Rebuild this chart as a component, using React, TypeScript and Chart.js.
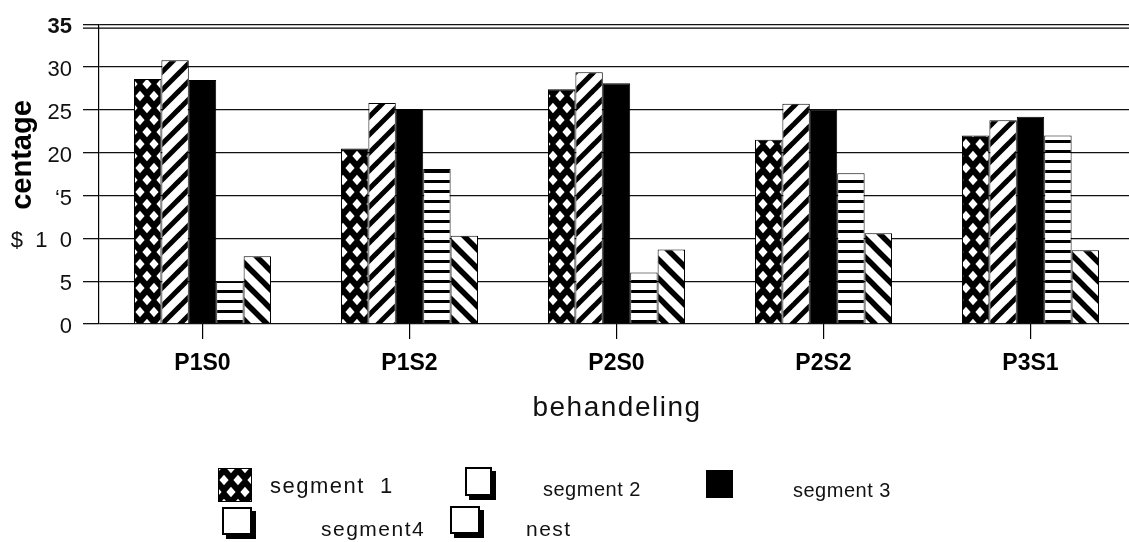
import React, { useEffect, useRef } from "react";
import { Chart, registerables } from "chart.js";

Chart.register(...registerables);

const categories = ["P1S0", "P1S2", "P2S0", "P2S2", "P3S1"];
const seriesNames = ["segment 1", "segment 2", "segment 3", "segment4", "nest"];
const segment1 = [28.6, 20.5, 27.4, 21.5, 22.0];
const segment2 = [30.8, 25.8, 29.4, 25.7, 23.8];
const segment3 = [28.5, 25.1, 28.1, 25.0, 24.2];
const segment4 = [4.9, 18.1, 6.0, 17.6, 22.0];
const nest = [7.9, 10.3, 8.7, 10.6, 8.6];
const yTickValues = [0, 5, 10, 15, 20, 25, 30, 35];
const yTickLabels = ["0", "5", "$  1  0", "\u20185", "20", "25", "30", "35"];
const yAxisTitle = "centage";
const xAxisTitle = "behandeling";
const legendLabels = ["segment  1", "segment 2", "segment 3", "segment4", "nest"];

const W = 1134;
const H = 542;
const FONT = '"Liberation Sans", Arial, sans-serif';

function makePattern(kind: string): CanvasPattern | string {
  const c = document.createElement("canvas");
  let w = 10, h = 10;
  if (kind === "cross") { w = 14; h = 24; }
  if (kind === "slash") { w = 18; h = 18; }
  if (kind === "back") { w = 19; h = 19; }
  if (kind === "horiz") { w = 10; h = 10; }
  c.width = w; c.height = h;
  const ctx = c.getContext("2d")!;
  if (kind === "cross") {
    ctx.fillStyle = "#000";
    ctx.fillRect(0, 0, w, h);
    ctx.fillStyle = "#fff";
    const centers = [[0, 0], [w, 0], [w / 2, h / 2], [0, h], [w, h]];
    for (const [cx, cy] of centers) {
      ctx.beginPath();
      ctx.moveTo(cx, cy - 5.2);
      ctx.lineTo(cx + 4.6, cy);
      ctx.lineTo(cx, cy + 5.2);
      ctx.lineTo(cx - 4.6, cy);
      ctx.closePath();
      ctx.fill();
    }
  } else if (kind === "slash") {
    ctx.fillStyle = "#fff";
    ctx.fillRect(0, 0, w, h);
    ctx.strokeStyle = "#000";
    ctx.lineWidth = 5;
    for (const k of [0, w, 2 * w]) {
      ctx.beginPath();
      ctx.moveTo(-w, k + w);
      ctx.lineTo(2 * w, k - 2 * w);
      ctx.stroke();
    }
  } else if (kind === "back") {
    ctx.fillStyle = "#fff";
    ctx.fillRect(0, 0, w, h);
    ctx.strokeStyle = "#000";
    ctx.lineWidth = 5.5;
    for (const k of [-w, 0, w]) {
      ctx.beginPath();
      ctx.moveTo(-w, k - w);
      ctx.lineTo(2 * w, k + 2 * w);
      ctx.stroke();
    }
  } else if (kind === "horiz") {
    ctx.fillStyle = "#fff";
    ctx.fillRect(0, 0, w, h);
    ctx.fillStyle = "#000";
    ctx.fillRect(0, 0, w, 3);
  }
  return ctx.createPattern(c, "repeat") || "#000";
}

export default function App() {
  const ref = useRef<HTMLCanvasElement | null>(null);

  useEffect(() => {
    if (!ref.current) return;
    const fills = [makePattern("cross"), makePattern("slash"), "#000", makePattern("horiz"), makePattern("back")];
    const values = [segment1, segment2, segment3, segment4, nest];

    const overlay = {
      id: "overlay",
      afterDraw(chart: any) {
        const ctx = chart.ctx as CanvasRenderingContext2D;
        const ca = chart.chartArea;
        ctx.save();
        // second top rule
        ctx.strokeStyle = "#000";
        ctx.lineWidth = 1.3;
        ctx.beginPath();
        ctx.moveTo(83, ca.top + 4);
        ctx.lineTo(W, ca.top + 4);
        ctx.stroke();

        // y title
        ctx.save();
        ctx.translate(31, 155);
        ctx.rotate(-Math.PI / 2);
        ctx.fillStyle = "#000";
        ctx.font = `bold 29px ${FONT}`;
        ctx.textAlign = "center";
        ctx.textBaseline = "alphabetic";
        ctx.fillText(yAxisTitle, 0, 0);
        ctx.restore();

        // x title
        ctx.fillStyle = "#111";
        ctx.font = `28px ${FONT}`;
        (ctx as any).letterSpacing = "1.5px";
        ctx.textAlign = "center";
        ctx.textBaseline = "alphabetic";
        ctx.fillText(xAxisTitle, 617, 416);

        // legend
        const items = [
          { box: [218, 468, 34, 34], style: "pattern", tx: 270, ty: 487, ls: 1.5, fs: 22 },
          { box: [465, 467, 27, 29], style: "shadow", tx: 543, ty: 490, ls: 0.5, fs: 20 },
          { box: [706, 470, 27, 28], style: "solid", tx: 793, ty: 491, ls: 0.5, fs: 20 },
          { box: [222, 507, 30, 28], style: "shadow", tx: 321, ty: 530, ls: 1.5, fs: 21 },
          { box: [450, 506, 30, 28], style: "shadow", tx: 526, ty: 530, ls: 1.5, fs: 21 },
        ];
        items.forEach((it, i) => {
          const [x, y, w, h] = it.box;
          if (it.style === "pattern") {
            ctx.fillStyle = fills[i] as any;
            ctx.fillRect(x, y, w, h);
            ctx.strokeStyle = "#000";
            ctx.lineWidth = 1;
            ctx.strokeRect(x + 0.5, y + 0.5, w - 1, h - 1);
          } else if (it.style === "solid") {
            ctx.fillStyle = "#000";
            ctx.fillRect(x, y, w, h);
          } else {
            ctx.fillStyle = "#000";
            ctx.fillRect(x + 4, y + 4, w, h);
            ctx.fillStyle = "#fff";
            ctx.fillRect(x, y, w, h);
            ctx.strokeStyle = "#000";
            ctx.lineWidth = 2;
            ctx.strokeRect(x + 1, y + 1, w - 2, h - 2);
          }
          ctx.fillStyle = "#111";
          ctx.font = `${it.fs}px ${FONT}`;
          (ctx as any).letterSpacing = `${it.ls}px`;
          ctx.textAlign = "left";
          ctx.textBaseline = "middle";
          ctx.fillText(legendLabels[i], it.tx, it.ty);
        });
        (ctx as any).letterSpacing = "0px";
        ctx.restore();
      },
    };

    const chart = new Chart(ref.current, {
      type: "bar",
      data: {
        labels: categories,
        datasets: seriesNames.map((name, i) => ({
          label: name,
          data: values[i],
          backgroundColor: fills[i] as any,
          borderColor: "#000",
          borderWidth: 1,
          barPercentage: 1,
          categoryPercentage: 0.662,
        })),
      },
      options: {
        responsive: false,
        devicePixelRatio: 1,
        animation: false,
        layout: { padding: { top: 20, left: 0, right: 0, bottom: 0 } },
        plugins: {
          legend: { display: false },
          tooltip: { enabled: false },
          title: { display: false },
        },
        scales: {
          x: {
            type: "category",
            offset: true,
            grid: {
              offset: false,
              drawOnChartArea: false,
              drawTicks: true,
              tickLength: 15,
              color: "#000",
              lineWidth: 1.2,
            },
            border: { display: false },
            ticks: {
              color: "#000",
              font: { family: FONT, size: 23, weight: "bold" },
              padding: 11,
              maxRotation: 0,
            },
            afterFit: (s: any) => { s.height = H - 324; },
          },
          y: {
            min: 0,
            max: 35,
            afterBuildTicks: (s: any) => { s.ticks = yTickValues.map((v) => ({ value: v })); },
            ticks: {
              color: "#111",
              padding: 11,
              labelOffset: 3,
              font: (c: any) => ({
                family: FONT,
                size: 22,
                weight: c.tick && c.tick.value === 35 ? "bold" : "normal",
              }),
              callback: (v: any) => {
                const idx = yTickValues.indexOf(Number(v));
                return idx >= 0 ? yTickLabels[idx] : "";
              },
            },
            grid: {
              color: "#111",
              lineWidth: 1.3,
              tickLength: 16,
              drawTicks: true,
            },
            border: { display: true, color: "#000", width: 1.2 },
            afterFit: (s: any) => { s.width = 99; },
          },
        },
      },
      plugins: [overlay],
    } as any);

    return () => chart.destroy();
  }, []);

  return (
    <div style={{ position: "fixed", left: 0, top: 0, width: 1129, height: 542, overflow: "hidden", background: "#fff" }}>
      <canvas ref={ref} width={W} height={H} style={{ display: "block", width: W, height: H }} />
    </div>
  );
}
